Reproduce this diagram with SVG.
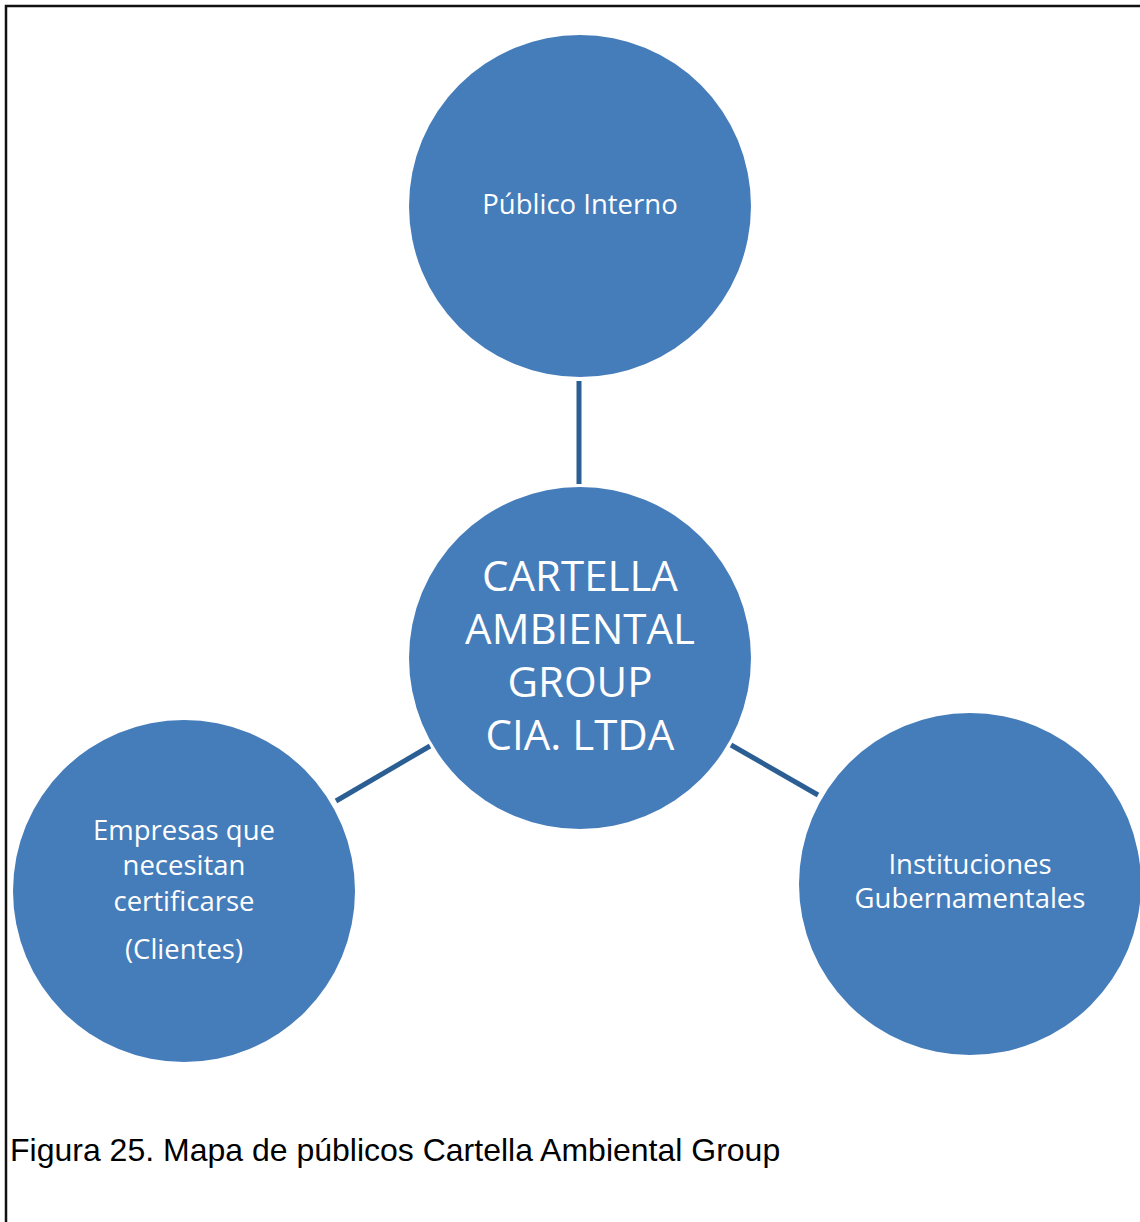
<svg xmlns="http://www.w3.org/2000/svg" width="1140" height="1222" viewBox="0 0 1140 1222">
<style>
.node{fill:#457cba;}
.lbl{font-family:"Open Sans","Liberation Sans",sans-serif;fill:#ffffff;text-anchor:middle;}
.sm{font-size:27.5px;}
.big{font-size:42px;}
.conn{stroke:#2b5f93;stroke-width:5;stroke-linecap:butt;}
.cap{font-family:"Liberation Sans",Arial,sans-serif;font-size:32px;fill:#000;}
</style>
<rect width="1140" height="1222" fill="#ffffff"/>
<path d="M6,1222 V6 H1140" fill="none" stroke="#111" stroke-width="2.5"/>
<g id="connectors">
<line class="conn" x1="579" y1="381" x2="579" y2="484"/>
<line class="conn" x1="336" y1="801" x2="430" y2="746"/>
<line class="conn" x1="731" y1="745" x2="818" y2="795"/>
</g>
<g id="publico-interno">
<circle class="node" cx="580" cy="206" r="171"/>
<text class="lbl sm" x="580" y="214">Público Interno</text>
</g>
<g id="cartella">
<circle class="node" cx="580" cy="658" r="171"/>
<text class="lbl big" x="580" y="591">CARTELLA</text>
<text class="lbl big" x="580" y="644">AMBIENTAL</text>
<text class="lbl big" x="580" y="697">GROUP</text>
<text class="lbl big" x="580" y="750">CIA. LTDA</text>
</g>
<g id="empresas">
<circle class="node" cx="184" cy="891" r="171"/>
<text class="lbl sm" x="184" y="840">Empresas que</text>
<text class="lbl sm" x="184" y="875">necesitan</text>
<text class="lbl sm" x="184" y="911">certificarse</text>
<text class="lbl sm" x="184" y="959">(Clientes)</text>
</g>
<g id="instituciones">
<circle class="node" cx="970" cy="884" r="171"/>
<text class="lbl sm" x="970" y="874">Instituciones</text>
<text class="lbl sm" x="970" y="908">Gubernamentales</text>
</g>
<text class="cap" x="10" y="1161">Figura 25. Mapa de públicos Cartella Ambiental Group</text>
</svg>
